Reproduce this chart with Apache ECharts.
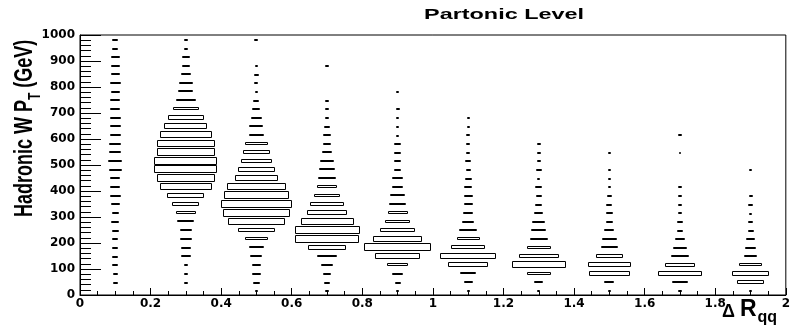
<!DOCTYPE html>
<html>
<head>
<meta charset="utf-8">
<script src="https://cdn.jsdelivr.net/npm/echarts@6/dist/echarts.min.js"></script>
<style>
  html, body { margin: 0; padding: 0; background: #ffffff; }
  #chart { width: 793px; height: 326px; }
</style>
</head>
<body>
<div id="chart"></div>
<script>
// ΔR_qq bin centres (bin width 0.2) and W pT binning (30 bins over 0–1000 GeV)
const deltaR = [0.1, 0.3, 0.5, 0.7, 0.9, 1.1, 1.3, 1.5, 1.7, 1.9];
const DR_BIN = 0.2;
const PT_BIN = 1000 / 30;

// Bin contents per ΔR column, indexed by pT bin (lowest first)
const countsDR01 = [0, 7, 7, 9, 9, 9, 9, 11, 12, 11, 14, 16, 15, 15, 19, 21, 18, 18, 17, 17, 17, 15, 15, 14, 16, 14, 14, 14, 9, 9];
const countsDR03 = [0, 7, 7, 7, 14, 15, 19, 18, 26, 31, 41, 56, 79, 88, 95, 95, 88, 88, 79, 65, 54, 40, 31, 23, 21, 16, 11, 11, 7, 7];
const countsDR05 = [5, 10, 13, 14, 18, 23, 35, 55, 86, 100, 106, 99, 88, 66, 56, 47, 40, 35, 24, 21, 17, 12, 9, 5, 6, 8, 5, 0, 0, 6];
const countsDR07 = [5, 10, 13, 18, 30, 58, 96, 98, 80, 60, 50, 38, 30, 26, 23, 21, 16, 13, 11, 10, 6, 5, 5, 0, 0, 0, 6, 0, 0, 0];
const countsDR09 = [5, 9, 16, 32, 69, 100, 73, 52, 38, 30, 25, 22, 16, 16, 11, 10, 10, 10, 4, 5, 5, 6, 0, 5, 0, 0, 0, 0, 0, 0];
const countsDR11 = [5, 13, 24, 60, 85, 52, 35, 27, 18, 15, 13, 13, 12, 11, 7, 9, 6, 6, 6, 5, 5, 0, 0, 0, 0, 0, 0, 0, 0, 0];
const countsDR13 = [5, 13, 37, 81, 60, 37, 28, 22, 19, 13, 11, 9, 11, 5, 9, 6, 6, 6, 0, 0, 0, 0, 0, 0, 0, 0, 0, 0, 0, 0];
const countsDR15 = [5, 15, 62, 64, 40, 25, 22, 15, 11, 10, 9, 7, 5, 5, 4, 0, 5, 0, 0, 0, 0, 0, 0, 0, 0, 0, 0, 0, 0, 0];
const countsDR17 = [5, 23, 66, 46, 28, 20, 15, 9, 8, 5, 7, 5, 5, 0, 0, 0, 4, 0, 5, 0, 0, 0, 0, 0, 0, 0, 0, 0, 0, 0];
const countsDR19 = [5, 42, 56, 35, 19, 16, 14, 9, 7, 4, 7, 6, 0, 0, 5, 0, 0, 0, 0, 0, 0, 0, 0, 0, 0, 0, 0, 0, 0, 0];

const columns = [countsDR01, countsDR03, countsDR05, countsDR07, countsDR09,
                 countsDR11, countsDR13, countsDR15, countsDR17, countsDR19];

// Content that fills a whole cell
const Z_MAX = 106.5;

const xTickLabels = ['0', '0.2', '0.4', '0.6', '0.8', '1', '1.2', '1.4', '1.6', '1.8', '2'];
const yTickLabels = ['0', '100', '200', '300', '400', '500', '600', '700', '800', '900', '1000'];

// [ΔR centre, pT centre, content]
const boxData = [];
columns.forEach((col, j) => {
  col.forEach((c, i) => {
    if (c > 0) boxData.push([deltaR[j], (i + 0.5) * PT_BIN, c]);
  });
});

const FONT = '"Liberation Sans", Arial, Helvetica, sans-serif';
const TICK_FONT = '"DejaVu Sans", sans-serif';

const measureCtx = document.createElement('canvas').getContext('2d');
function textWidth(text, font) {
  measureCtx.font = font;
  return measureCtx.measureText(text).width;
}

// Y-axis title pieces laid out along the text direction
const yMainFont = 'bold 18px ' + FONT;
const ySubFont = 'bold 12px ' + FONT;
const yPart1 = 'Hadronic W P';
const yPart2 = 'T';
const yPart3 = ' (GeV)';
const yW1 = textWidth(yPart1, yMainFont);
const yW2 = textWidth(yPart2, ySubFont);

// X-axis title pieces
const xDeltaFont = 'bold 18px ' + FONT;
const xRFont = 'bold 23px ' + FONT;
const xSubFont = 'bold 16px ' + FONT;
const xWd = textWidth('Δ ', xDeltaFont);
const xWr = textWidth('R', xRFont);

const chart = echarts.init(document.getElementById('chart'), null, { renderer: 'canvas' });

chart.setOption({
  animation: false,
  backgroundColor: '#ffffff',
  grid: {
    left: 80, right: 3, top: 35, bottom: 31,
    show: true, borderColor: '#000000', borderWidth: 1, backgroundColor: 'transparent'
  },
  xAxis: {
    type: 'value', min: 0, max: 2, interval: 0.2,
    axisLine: { show: true, lineStyle: { color: '#000000', width: 1 } },
    axisTick: { show: true, inside: true, length: 7, lineStyle: { color: '#000000' } },
    minorTick: { show: true, splitNumber: 4, length: 4, lineStyle: { color: '#000000' } },
    splitLine: { show: false },
    axisLabel: {
      margin: 3, color: '#000000', fontFamily: TICK_FONT, fontWeight: 'bold', fontSize: 12,
      formatter: v => xTickLabels[Math.round(v / 0.2)],
      showMinLabel: true, showMaxLabel: true
    }
  },
  yAxis: {
    type: 'value', min: 0, max: 1000, interval: 100,
    axisLine: { show: true, lineStyle: { color: '#000000', width: 1 } },
    axisTick: { show: true, inside: true, length: 21, lineStyle: { color: '#000000' } },
    minorTick: { show: true, splitNumber: 5, length: 11, lineStyle: { color: '#000000' } },
    splitLine: { show: false },
    axisLabel: {
      margin: 5, color: '#000000', fontFamily: TICK_FONT, fontWeight: 'bold', fontSize: 12,
      formatter: v => yTickLabels[Math.round(v / 100)],
      showMinLabel: true, showMaxLabel: true
    }
  },
  series: [{
    type: 'custom',
    coordinateSystem: 'cartesian2d',
    data: boxData,
    encode: { x: 0, y: 1 },
    renderItem: function (params, api) {
      const c = api.coord([api.value(0), api.value(1)]);
      const cell = api.size([DR_BIN, PT_BIN]);
      const r = api.value(2) / Z_MAX;
      const w = cell[0] * r;
      const h = cell[1] * r;
      const x1 = Math.round(c[0] - w / 2);
      const x2 = Math.round(c[0] + w / 2);
      const y1 = Math.round(c[1] - h / 2);
      const y2 = Math.round(c[1] + h / 2);
      return {
        type: 'rect',
        shape: {
          x: x1 + 0.5,
          y: y1 + 0.5,
          width: Math.max(x2 - x1 - 1, 1),
          height: Math.max(y2 - y1 - 1, 1)
        },
        style: { fill: '#ffffff', stroke: '#000000', lineWidth: 1 }
      };
    }
  }],
  graphic: [
    {
      type: 'text', x: 504, y: 15, scaleX: 1.56,
      style: {
        text: 'Partonic Level', font: 'bold 15px ' + FONT,
        fill: '#000000', align: 'center', verticalAlign: 'middle'
      }
    },
    {
      type: 'group', x: 38, y: 217, rotation: Math.PI / 2, scaleY: 1.4,
      children: [
        { type: 'text', x: 0, y: 0,
          style: { text: yPart1, font: yMainFont, fill: '#000', align: 'left', verticalAlign: 'bottom' } },
        { type: 'text', x: yW1, y: 4,
          style: { text: yPart2, font: ySubFont, fill: '#000', align: 'left', verticalAlign: 'bottom' } },
        { type: 'text', x: yW1 + yW2, y: 0,
          style: { text: yPart3, font: yMainFont, fill: '#000', align: 'left', verticalAlign: 'bottom' } }
      ]
    },
    {
      type: 'group', x: 722, y: 321,
      children: [
        { type: 'text', x: 0, y: 0,
          style: { text: 'Δ ', font: xDeltaFont, fill: '#000', align: 'left', verticalAlign: 'bottom' } },
        { type: 'text', x: xWd, y: 0,
          style: { text: 'R', font: xRFont, fill: '#000', align: 'left', verticalAlign: 'bottom' } },
        { type: 'text', x: xWd + xWr + 1, y: 5,
          style: { text: 'qq', font: xSubFont, fill: '#000', align: 'left', verticalAlign: 'bottom' } }
      ]
    }
  ]
});
</script>
</body>
</html>
